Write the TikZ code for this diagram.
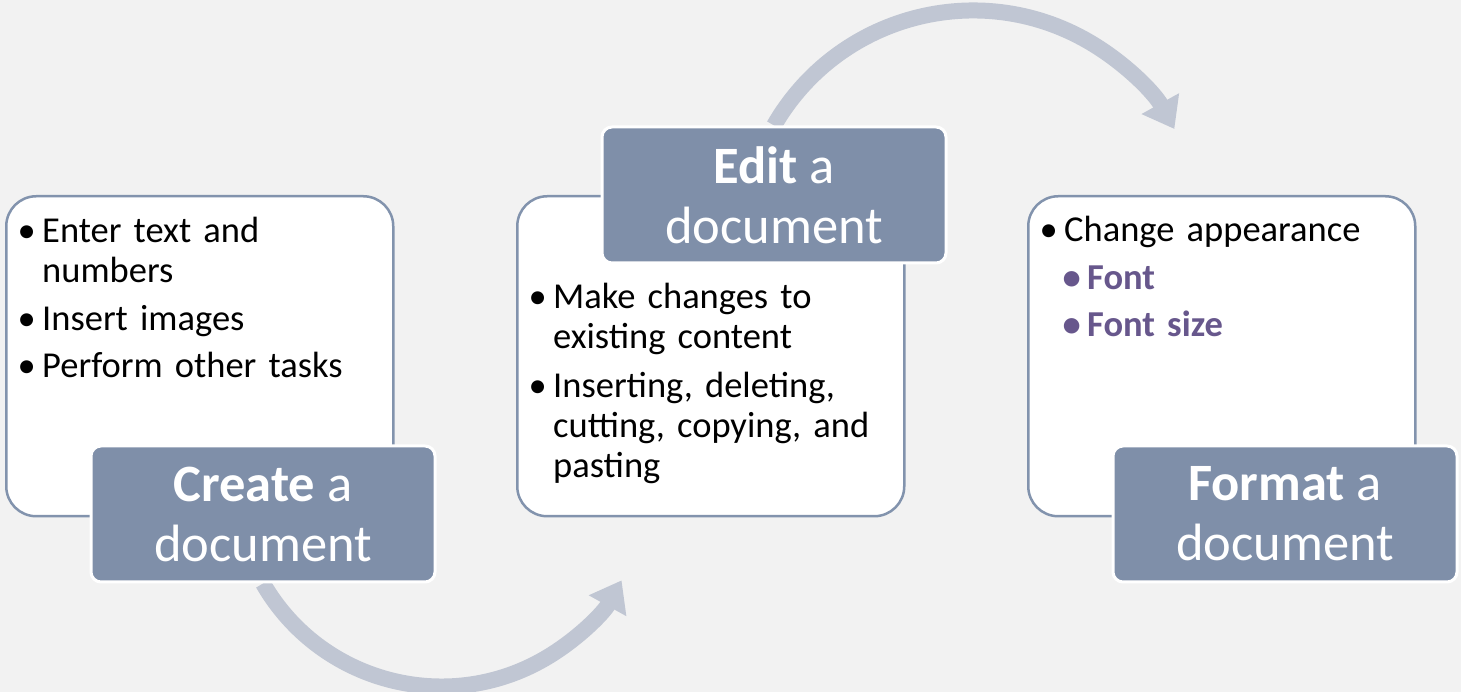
\documentclass[tikz,border=0pt]{standalone}
\usepackage{fontspec}
\setmainfont{Carlito}
\usetikzlibrary{arrows.meta}
\definecolor{bgc}{HTML}{F2F2F2}
\definecolor{labc}{HTML}{7F8FA9}
\definecolor{linec}{HTML}{8293AD}
\definecolor{arrc}{HTML}{C0C6D3}
\definecolor{purp}{HTML}{67578C}
\pgfdeclarelayer{back}
\pgfdeclarelayer{mid}
\pgfsetlayers{back,mid,main}
\newcommand\bl{\makebox[23pt][l]{\hspace*{-1.5pt}•}}
\newcommand\ind{\hspace*{23pt}}
\begin{document}
\begin{tikzpicture}[x=1pt,y=1pt,
  whitebox/.style={draw=linec, line width=2.5pt, fill=white, rounded corners=30pt,
    minimum width=387pt, minimum height=320pt, anchor=north west, inner sep=0pt},
  labelbox/.style={draw=white, line width=3pt, fill=labc, rounded corners=10pt,
    minimum width=344pt, minimum height=136pt, inner sep=0pt, text=white,
    align=center, font=\fontsize{52.5}{60}\selectfont},
  btext/.style={anchor=north west, inner sep=0pt, text width=370pt, align=left,
    font=\fontsize{36.5}{40}\selectfont},
  flow/.style={draw=arrc, line width=16pt, -{Triangle[length=29pt,width=41pt]}}]
\begin{pgfonlayer}{back}
\fill[bgc] (0,0) rectangle (1461,692);
\end{pgfonlayer}
\useasboundingbox (0,0) rectangle (1461,692);
% white content boxes
\node[whitebox] (B1) at (5,497) {};
\node[whitebox] (B2) at (516,497) {};
\node[whitebox] (B3) at (1027,497) {};
% texts
\node[btext] (T1) at ([shift={(14,-22)}]B1.north west) {%
\bl Enter text and\\
\ind numbers\\[8pt]
\bl Insert images\\[7pt]
\bl Perform other tasks};
\node[btext] (T2) at ([shift={(14,-88)}]B2.north west) {%
\bl Make changes to\\
\ind existing content\\[9pt]
\bl Inserting, deleting,\\
\ind cutting, copying, and\\
\ind pasting};
\node[btext] (T3) at ([shift={(14,-21)}]B3.north west) {%
\bl Change appearance\\[8pt]
{\color{purp}\bfseries\ind\bl Font}\\[7pt]
{\color{purp}\bfseries\ind\bl Font size}};
% labels
\node[labelbox] (L1) at (263,178) {\textbf{Create} a\\document};
\node[labelbox] (L2) at (774,497) {\textbf{Edit} a\\document};
\node[labelbox] (L3) at (1285,178) {\textbf{Format} a\\document};
% flow arrows
\begin{pgfonlayer}{mid}
\draw[flow] (L1.south) arc[start angle=210, end angle=331, radius=206];
\draw[flow] (L2.north) arc[start angle=150, end angle=29, radius=230];
\end{pgfonlayer}
\end{tikzpicture}
\end{document}
